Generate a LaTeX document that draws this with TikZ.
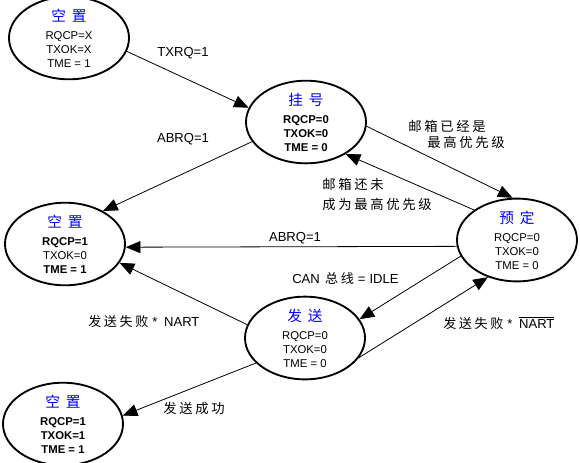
\documentclass[tikz,border=0pt]{standalone}
\usepackage{fontspec}
\setmainfont{Liberation Sans}
\newfontfamily\cjk[LetterSpace=20]{Noto Sans CJK SC}
\newfontfamily\cjkt{Noto Sans CJK SC}
\usetikzlibrary{shapes.geometric,arrows.meta}
\newcommand{\ttl}[1]{{\cjkt\fontsize{11}{13}\selectfont\color{blue}#1}}
\begin{document}
\begin{tikzpicture}[x=0.75pt,y=-0.75pt,
  st/.style={ellipse,draw,line width=1.4pt,minimum width=90pt,minimum height=54pt,
    inner sep=0pt,align=center,font=\fontsize{8.5}{10.5}\selectfont},
  ar/.style={-{Triangle[length=11pt,width=9pt]},line width=0.6pt},
  lb/.style={font=\fontsize{9.8}{12}\selectfont,inner sep=0pt},
  cl/.style={font=\fontsize{10}{12}\selectfont\cjk,inner sep=0pt}]
\useasboundingbox (0,0) rectangle (580,462);

\node[st] (A) at (69,38) {\ttl{空\hspace{0.4em}置}\\[3pt]RQCP=X\\TXOK=X\\TME = 1};
\node[st] (B) at (306,122) {\ttl{挂\hspace{0.4em}号}\\[3pt]\textbf{RQCP=0}\\\textbf{TXOK=0}\\\textbf{TME = 0}};
\node[st] (C) at (65,244) {\ttl{空\hspace{0.4em}置}\\[3pt]\textbf{RQCP=1}\\TXOK=0\\\textbf{TME = 1}};
\node[st] (D) at (517,240) {\ttl{预\hspace{0.4em}定}\\[3pt]RQCP=0\\TXOK=0\\TME = 0};
\node[st] (E) at (305,338) {\ttl{发\hspace{0.4em}送}\\[3pt]RQCP=0\\TXOK=0\\TME = 0};
\node[st] (F) at (63,424) {\ttl{空\hspace{0.4em}置}\\[3pt]\textbf{RQCP=1}\\\textbf{TXOK=1}\\\textbf{TME = 1}};

\draw[ar] (A.-13) -- (B.166);
\draw[ar] (B.-160) -- (C.41.5);
\draw[ar] (B.-4.7) -- (D.96);
\draw[ar] (D.145) -- (B.-39);
\draw[ar] (D.186) -- (C.-3);
\draw[ar] (D.196.6) -- (E.19);
\draw[ar] (E.167) -- (C.-19);
\draw[ar] (E.-20) -- (D.232);
\draw[ar] (E.207.5) -- (F.8.5);

\node[lb] (l1) at (183,53) {TXRQ=1};
\node[lb] (l2) at (183,139) {ABRQ=1};
\node[cl,anchor=west] (l3) at (408,126) {邮箱已经是};
\node[cl,anchor=west] (l4) at (427,142) {最高优先级};
\node[cl,anchor=west] (l5) at (322,184) {邮箱还未};
\node[cl,anchor=west] (l6) at (322,204) {成为最高优先级};
\node[lb] (l7) at (295,238) {ABRQ=1};
\node[lb,anchor=west] (l8) at (292,278) {CAN\hspace{4pt}{\cjk 总线}\hspace{3pt}=\hspace{3pt}IDLE};
\node[lb,anchor=west] (l9) at (88,322) {{\cjk 发送失败}\hspace{3pt}*\hspace{5pt}NART};
\node[lb,anchor=west] (l10) at (443,323) {{\cjk 发送失败}\hspace{3pt}*\hspace{5pt}$\overline{\hbox{NART}}$};
\node[cl,anchor=west] (l11) at (163,408) {发送成功};
\end{tikzpicture}
\end{document}
